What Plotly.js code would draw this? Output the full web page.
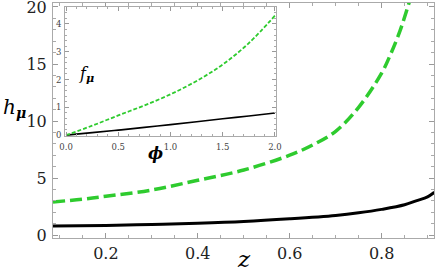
<!DOCTYPE html>
<html><head><meta charset="utf-8">
<script src="https://cdn.plot.ly/plotly-3.0.1.min.js"></script>
<style>html,body{margin:0;padding:0;background:#fff}#g{width:436px;height:269px}</style>
</head><body><div id="g"></div>
<script>
// main plot data
var zGreen = [0.085, 0.15, 0.2, 0.3, 0.4, 0.5, 0.6, 0.65, 0.7, 0.75, 0.8, 0.82, 0.84, 0.86];
var hGreen = [2.9, 3.15, 3.4, 3.95, 4.8, 5.7, 7.0, 7.9, 9.1, 11.2, 14.2, 15.9, 17.9, 20.4];
var zBlack = [0.085, 0.2, 0.3, 0.4, 0.5, 0.6, 0.7, 0.75, 0.8, 0.85, 0.875, 0.9, 0.915];
var hBlack = [0.79, 0.84, 0.93, 1.03, 1.18, 1.42, 1.72, 1.95, 2.25, 2.65, 3.0, 3.35, 3.75];
// inset data
var phi    = [0, 0.25, 0.5, 0.75, 1.0, 1.25, 1.5, 1.75, 2.0];
var fGreen = [0, 0.34, 0.71, 1.07, 1.47, 1.95, 2.54, 3.31, 4.3];
var fBlack = [0, 0.09, 0.18, 0.28, 0.38, 0.48, 0.59, 0.69, 0.8];
// tick labels
var zTicks = [0.2, 0.4, 0.6, 0.8];
var hTicks = [0, 5, 10, 15, 20];
var phiTicks = [0, 0.5, 1, 1.5, 2];
var fTicks = [0, 1, 2, 3, 4];

var green = '#2ecb2e';
var W = 436, H = 269, L = 53, R = 2, T = 3, B = 31;
var pw = W - L - R, ph = H - T - B;
function px(x){ return (x - L) / pw; }
function py(y){ return (H - B - y) / ph; }
var serif = 'DejaVu Serif';

var traces = [
  {x: zBlack, y: hBlack, mode: 'lines', line: {color: '#000', width: 3, shape: 'spline'}, xaxis: 'x', yaxis: 'y'},
  {x: zGreen, y: hGreen, mode: 'lines', line: {color: green, width: 3.5, dash: '12px,5px', shape: 'spline'}, xaxis: 'x', yaxis: 'y'},
  {x: phi, y: fBlack, mode: 'lines', line: {color: '#000', width: 1.6, shape: 'spline'}, xaxis: 'x2', yaxis: 'y2'},
  {x: phi, y: fGreen, mode: 'lines', line: {color: green, width: 1.8, dash: '4px,2px', shape: 'spline'}, xaxis: 'x2', yaxis: 'y2'}
];

var frame = {showline: true, linecolor: '#aaa', linewidth: 1, mirror: 'allticks', ticks: 'inside',
  tickcolor: '#999', showgrid: false, zeroline: false, ticklabeloverflow: 'allow'};
function ax(o){ return Object.assign({}, frame, o); }

var layout = {
  width: W, height: H, margin: {l: L, r: R, t: T, b: B}, showlegend: false,
  paper_bgcolor: '#fff', plot_bgcolor: '#fff',
  font: {family: serif},
  xaxis: ax({range: [0.085, 0.914], tickvals: zTicks, ticktext: zTicks.map(function(v){return v.toFixed(1);}),
    ticklen: 5, minor: {dtick: 0.05, tick0: 0, ticklen: 3, ticks: 'inside', tickcolor: '#aaa'},
    tickfont: {family: serif, size: 16, color: '#222'}, ticklabelstandoff: 1}),
  yaxis: ax({range: [-0.26, 20.35], tickvals: hTicks, ticktext: hTicks.map(String),
    ticklen: 5, minor: {dtick: 1, tick0: 0, ticklen: 3, ticks: 'inside', tickcolor: '#aaa'},
    tickfont: {family: serif, size: 16, color: '#222'}, ticklabelstandoff: 2}),
  xaxis2: ax({domain: [px(65), px(276)], anchor: 'y2', range: [-0.01, 2.01], tickvals: phiTicks,
    ticktext: phiTicks.map(function(v){return v.toFixed(1);}), ticklen: 4,
    minor: {dtick: 0.1, tick0: 0, ticklen: 2, ticks: 'inside', tickcolor: '#aaa'},
    tickfont: {family: serif, size: 8.5, color: '#444'}, ticklabelstandoff: 3}),
  yaxis2: ax({domain: [py(136), py(6.7)], anchor: 'x2', range: [-0.03, 4.62], tickvals: fTicks,
    ticktext: fTicks.map(String), ticklen: 4,
    minor: {dtick: 0.2, tick0: 0, ticklen: 2, ticks: 'inside', tickcolor: '#aaa'},
    tickfont: {family: serif, size: 8.5, color: '#444'}, ticklabelstandoff: 1}),
  annotations: [
    {xref: 'paper', yref: 'paper', x: px(1), y: py(108), xanchor: 'left', yanchor: 'middle', showarrow: false,
     text: '<i>h</i><sub><b><i>μ</i></b></sub>', font: {family: serif, size: 20, color: '#000'}},
    {xref: 'paper', yref: 'paper', x: px(244), y: py(259), xanchor: 'center', yanchor: 'middle', showarrow: false,
     text: '<i>z</i>', font: {family: serif, size: 23, color: '#000'}},
    {xref: 'paper', yref: 'paper', x: px(77), y: py(74), xanchor: 'left', yanchor: 'middle', showarrow: false,
     text: '<i>f</i><sub><b><i>μ</i></b></sub>', font: {family: serif, size: 16, color: '#000'}},
    {xref: 'paper', yref: 'paper', x: px(155), y: py(154), xanchor: 'center', yanchor: 'middle', showarrow: false,
     text: '<b><i>ϕ</i></b>', font: {family: serif, size: 16, color: '#000'}}
  ]
};
Plotly.newPlot('g', traces, layout, {displayModeBar: false, staticPlot: true});
</script></body></html>
